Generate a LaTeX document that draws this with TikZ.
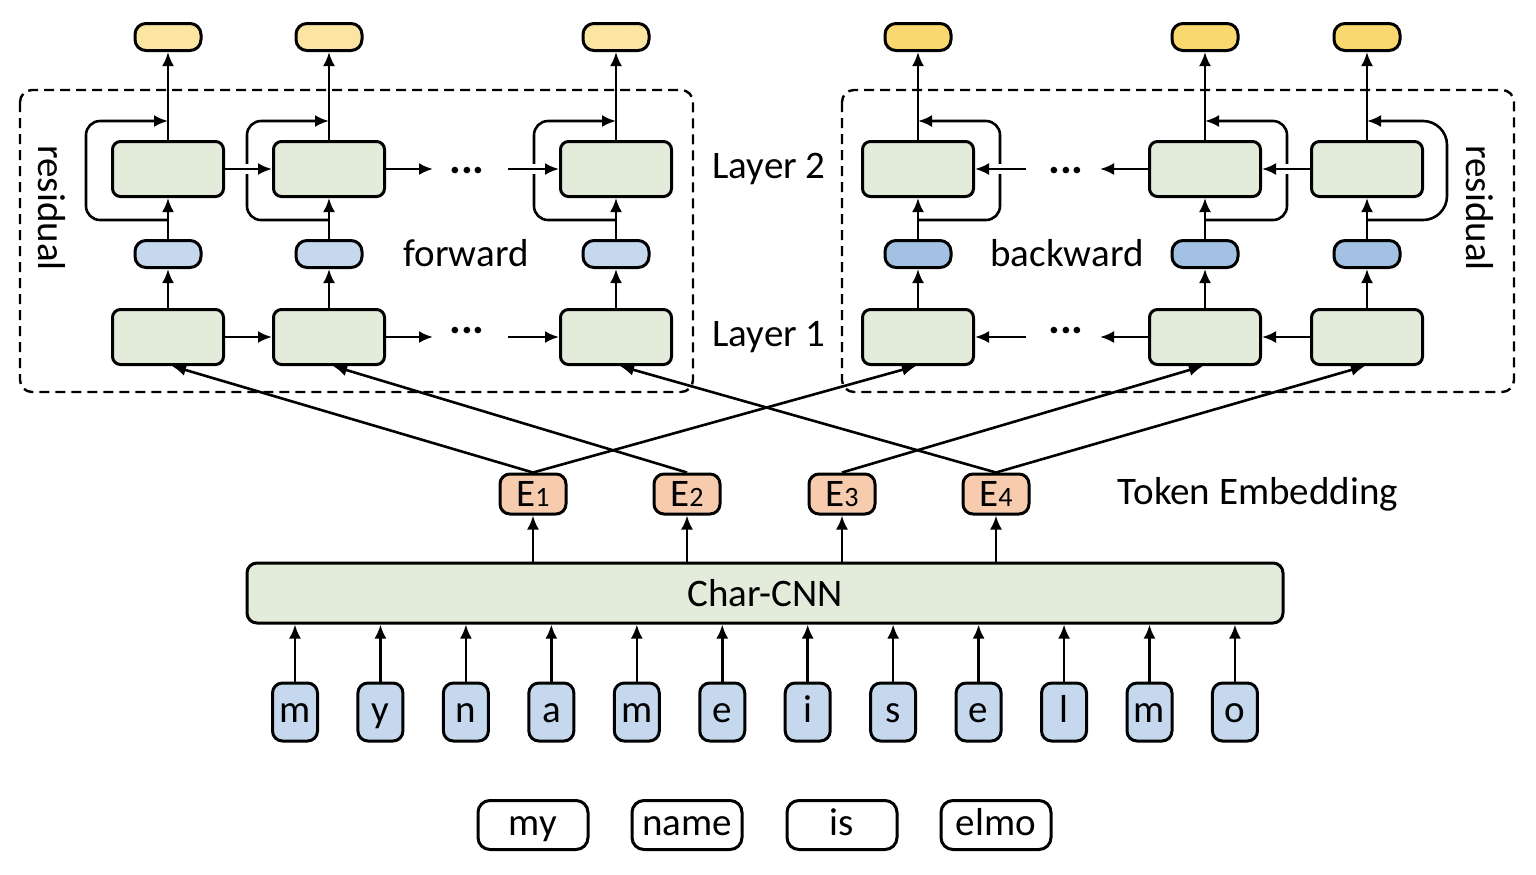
\documentclass[tikz,border=0pt]{standalone}
\usepackage{fontspec}
\setmainfont{Carlito}
\usetikzlibrary{arrows.meta}

\definecolor{cellgreen}{HTML}{E3ECDA}
\definecolor{fwdblue}{HTML}{C6D8EE}
\definecolor{bwdblue}{HTML}{A2C1E3}
\definecolor{fwdgold}{HTML}{FCE5A3}
\definecolor{bwdgold}{HTML}{F9D870}
\definecolor{embpeach}{HTML}{F6CBAE}
\definecolor{charblue}{HTML}{C5D8EE}

\tikzset{every picture/.style={line width=1.3pt},
    cell/.style={draw, line width=1.5pt, rounded corners=4pt, fill=cellgreen, minimum width=55.5pt, minimum height=27.5pt, inner sep=0pt},
    pill/.style={draw, line width=1.5pt, rounded corners=5.5pt, minimum width=33pt, minimum height=13.5pt, inner sep=0pt},
    emb/.style={draw, line width=1.5pt, rounded corners=5pt, fill=embpeach, minimum width=33pt, minimum height=20pt, inner sep=0pt},
    charbox/.style={draw, line width=1.5pt, rounded corners=5pt, fill=charblue, minimum width=22.5pt, minimum height=29pt, inner sep=0pt, text height=12pt, text depth=2pt},
    wordbox/.style={draw, line width=1.5pt, rounded corners=6pt, fill=white, minimum width=55pt, minimum height=24.5pt, inner sep=0pt, text height=12pt, text depth=2pt},
    cnnbox/.style={draw, line width=1.5pt, rounded corners=5pt, fill=cellgreen, minimum width=518pt, minimum height=30pt, inner sep=0pt},
    frame/.style={draw, line width=1.2pt, rounded corners=6pt, dash pattern=on 5pt off 3pt},
    arr/.style={-{Latex[length=7pt,width=6pt]}, line width=1.3pt},
    loopback/.style={arr, rounded corners=7pt},
    crossing/.style={arr, preaction={draw=white, line width=5pt, -, shorten <=4pt, shorten >=4pt}},
    dotsnode/.style={anchor=base, inner sep=0pt, font=\fontsize{22}{26}\selectfont\bfseries}
}

\begin{document}
\begin{tikzpicture}[x=0.5pt,y=0.5pt,yscale=-1,font=\fontsize{19.5}{23}\selectfont]
    \useasboundingbox (0,0) rectangle (1536,874);

    \draw[frame] (20,90) rectangle (693,392);
    \draw[frame] (842,90) rectangle (1514,392);

    \foreach \n/\x in {1/168,2/329,3/616} {
        \node[pill, fill=fwdgold] (fo\n) at (\x,37) {};
        \node[cell] (ft\n) at (\x,169) {};
        \node[pill, fill=fwdblue] (fh\n) at (\x,254) {};
        \node[cell] (fb\n) at (\x,337) {};
        \coordinate (fra\n) at (\x,220);
        \coordinate (frb\n) at (\x,121);
        \draw[arr] (fb\n) -- (fh\n);
        \draw[arr] (fh\n) -- (ft\n);
        \draw[arr] (ft\n) -- (fo\n);
        \draw[loopback] (fra\n) -- ++(-82,0) |- (frb\n);
    }
    \foreach \n/\x in {1/918,2/1205,3/1367} {
        \node[pill, fill=bwdgold] (bo\n) at (\x,37) {};
        \node[cell] (bt\n) at (\x,169) {};
        \node[pill, fill=bwdblue] (bh\n) at (\x,254) {};
        \node[cell] (bb\n) at (\x,337) {};
        \coordinate (bra\n) at (\x,220);
        \coordinate (brb\n) at (\x,121);
        \draw[arr] (bb\n) -- (bh\n);
        \draw[arr] (bh\n) -- (bt\n);
        \draw[arr] (bt\n) -- (bo\n);
    }
    \draw[loopback] (bra1) -- ++(82,0) |- (brb1);
    \draw[loopback] (bra2) -- ++(82,0) |- (brb2);
    \draw[arr, rounded corners=12pt] (bra3) -- ++(80,0) |- (brb3);

    \coordinate (fdt2) at (433,169);
    \coordinate (fdt3) at (508,169);
    \coordinate (fdb2) at (433,337);
    \coordinate (fdb3) at (508,337);
    \coordinate (bdt2) at (1100,169);
    \coordinate (bdt1) at (1026,169);
    \coordinate (bdb2) at (1100,337);
    \coordinate (bdb1) at (1026,337);

    \draw[crossing] (ft1) -- (ft2);
    \draw[arr] (ft2) -- (fdt2);
    \draw[crossing] (fdt3) -- (ft3);
    \draw[arr] (fb1) -- (fb2);
    \draw[arr] (fb2) -- (fdb2);
    \draw[arr] (fdb3) -- (fb3);
    \draw[crossing] (bt3) -- (bt2);
    \draw[arr] (bt2) -- (bdt2);
    \draw[crossing] (bdt1) -- (bt1);
    \draw[arr] (bb3) -- (bb2);
    \draw[arr] (bb2) -- (bdb2);
    \draw[arr] (bdb1) -- (bb1);

    \node[dotsnode] (fdots2) at (467,173) {...};
    \node[dotsnode] (fdots1) at (467,333) {...};
    \node[dotsnode] (bdots2) at (1066,173) {...};
    \node[dotsnode] (bdots1) at (1066,333) {...};

    \node (fwd) at (466,253) {forward};
    \node (bwd) at (1067,253) {backward};
    \node (lay2) at (769,169) {Layer 2};
    \node (lay1) at (769,337) {Layer 1};
    \node[rotate=-90] (resl) at (52,208) {residual};
    \node[rotate=-90] (resr) at (1480,208) {residual};
    \node (tok) at (1258,494) {Token Embedding};

    \node[cnnbox] (cnn) at (765,593) {Char-CNN};

    \foreach \n/\x/\w in {1/533/my,2/687/name,3/842/is,4/996/elmo} {
        \node[emb] (e\n) at (\x,494) {E{\fontsize{14}{14}\selectfont\n}};
        \node[wordbox] (w\n) at (\x,825) {\w};
        \draw[arr] (cnn.north -| e\n) -- (e\n);
    }

    \foreach \c [count=\i] in {m,y,n,a,m,e,i,s,e,l,m,o} {
        \node[charbox] (c\i) at ({295+85.45*(\i-1)},712) {\c};
        \draw[arr] (c\i) -- (c\i |- cnn.south);
    }

    \draw[arr] (e1.north) -- ([xshift=2pt]fb1.south);
    \draw[arr] (e2.north) -- ([xshift=2pt]fb2.south);
    \draw[arr] (e4.north) -- ([xshift=2pt]fb3.south);
    \draw[arr] (e1.north) -- ([xshift=-1pt]bb1.south);
    \draw[arr] (e3.north) -- ([xshift=-1pt]bb2.south);
    \draw[arr] (e4.north) -- ([xshift=-1pt]bb3.south);
\end{tikzpicture}
\end{document}
